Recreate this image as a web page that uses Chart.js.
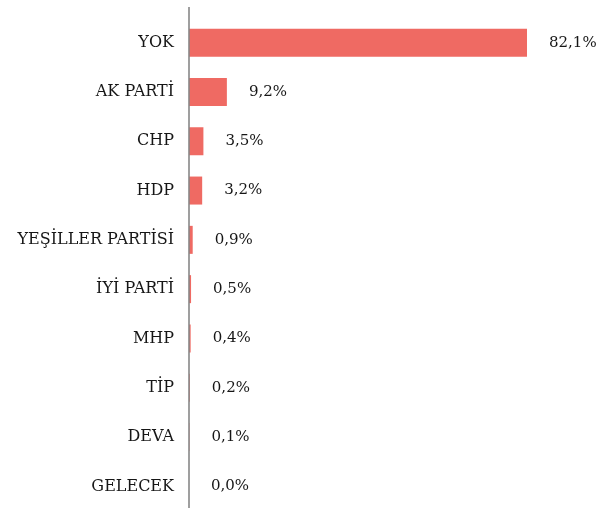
<!DOCTYPE html>
<html>
<head>
<meta charset="utf-8">
<script src="https://cdn.jsdelivr.net/npm/chart.js@4"></script>
<style>
  html, body { margin: 0; padding: 0; background: #fff; overflow: hidden; }
  #chart { display: block; }
</style>
</head>
<body>
<canvas id="chart" width="605" height="512"></canvas>
<script>
const parties = ['YOK', 'AK PARTİ', 'CHP', 'HDP', 'YEŞİLLER PARTİSİ', 'İYİ PARTİ', 'MHP', 'TİP', 'DEVA', 'GELECEK']
const shares = [82.1, 9.2, 3.5, 3.2, 0.9, 0.5, 0.4, 0.2, 0.1, 0.0]

const barColor = '#ef6a63'
const textColor = '#161616'

// value labels to the right of each bar + the axis line that runs above the plot
const barLabels = {
    id: 'barLabels',
    afterDatasetsDraw(chart) {
        const ctx = chart.ctx
        const meta = chart.getDatasetMeta(0)
        const x0 = chart.scales.x.getPixelForValue(0)

        ctx.save()
        ctx.strokeStyle = '#878787'
        ctx.lineWidth = 1.6
        ctx.beginPath()
        ctx.moveTo(x0, 7)
        ctx.lineTo(x0, chart.height)
        ctx.stroke()

        ctx.font = '15px "DejaVu Serif"'
        ctx.fillStyle = textColor
        ctx.textAlign = 'left'
        ctx.textBaseline = 'middle'
        meta.data.forEach((bar, i) => {
            const txt = shares[i].toFixed(1).replace('.', ',') + '%'
            ctx.fillText(txt, bar.x + 22, bar.y)
        })
        ctx.restore()
    }
}

new Chart(document.getElementById('chart'), {
    type: 'bar',
    data: {
        labels: parties,
        datasets: [{
            data: shares,
            backgroundColor: barColor,
            borderWidth: 0,
            categoryPercentage: 1,
            barPercentage: 0.568
        }]
    },
    options: {
        indexAxis: 'y',
        responsive: false,
        animation: false,
        layout: { padding: { top: 18, right: 78, bottom: 1, left: 0 } },
        plugins: {
            legend: { display: false },
            tooltip: { enabled: false }
        },
        scales: {
            x: {
                display: false,
                min: 0,
                max: 82.1
            },
            y: {
                afterFit(scale) {
                    scale.width = 189
                    scale.paddingTop = 0
                    scale.paddingBottom = 0
                },
                grid: { display: false, drawTicks: false },
                border: { display: false },
                ticks: {
                    padding: 15,
                    color: textColor,
                    font: { family: 'DejaVu Serif', size: 16 }
                }
            }
        }
    },
    plugins: [barLabels]
})
</script>
</body>
</html>
